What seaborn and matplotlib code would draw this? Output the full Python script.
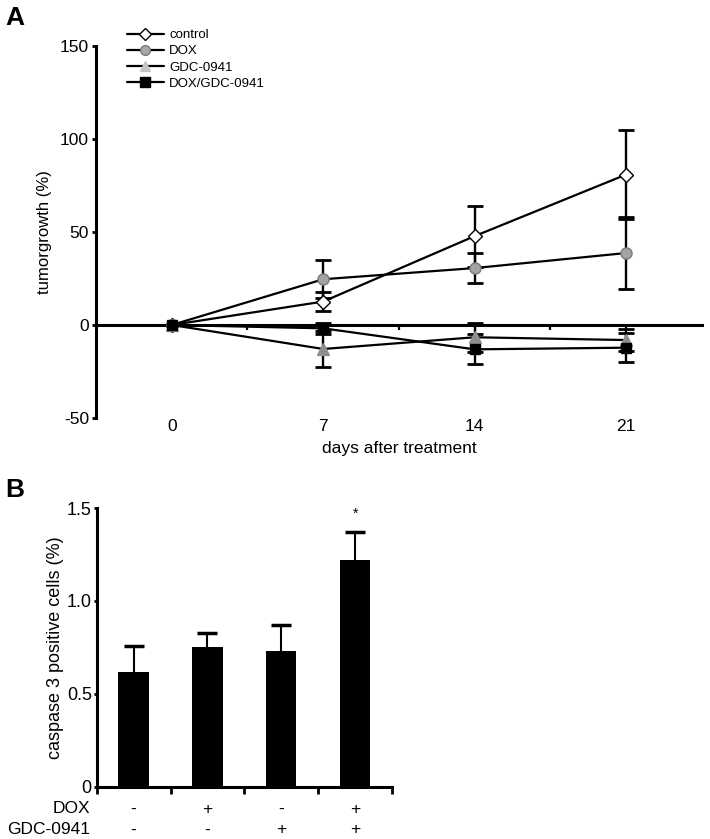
import matplotlib
matplotlib.use("Agg")
import matplotlib.pyplot as plt
from matplotlib.lines import Line2D
import numpy as np
import seaborn as sns

# Panel A: tumour growth (%) over days after treatment
days = [0, 7, 14, 21]
control_mean = [0, 12.6, 47.8, 80.9]
control_err = [0, 5.2, 16.4, 23.7]
dox_mean = [0, 24.6, 30.6, 38.7]
dox_err = [0, 10.3, 8.0, 19.6]
gdc_mean = [0, -12.9, -6.6, -8.1]
gdc_err = [0, 9.5, 7.9, 5.9]
combo_mean = [0, -1.8, -13.1, -12.2]
combo_err = [0, 3.0, 8.1, 7.9]
series_names = ['control', 'DOX', 'GDC-0941', 'DOX/GDC-0941']

# Panel B: caspase 3 positive cells (%)
dox_status = ['-', '+', '-', '+']
gdc_status = ['-', '-', '+', '+']
caspase_mean = [0.62, 0.75, 0.73, 1.22]
caspase_err = [0.135, 0.078, 0.139, 0.151]
ytick_b = [0, 0.5, 1.0, 1.5]
ytick_b_labels = ['0', '0.5', '1.0', '1.5']

STYLES = {
    'control': dict(marker='D', ms=7, face='white', edge='black', legend_face='white'),
    'DOX': dict(marker='o', ms=8, face='#a3a3a3', edge='#7a7a7a', legend_face='#a8a8a8'),
    'GDC-0941': dict(marker='^', ms=8, face='#8e8e8e', edge='#8e8e8e', legend_face='#c4c4c4'),
    'DOX/GDC-0941': dict(marker='s', ms=7.5, face='black', edge='black', legend_face='black'),
}

sns.set_style("ticks", rc={'axes.edgecolor': 'black', 'xtick.color': 'black',
                           'ytick.color': 'black', 'text.color': 'black',
                           'axes.labelcolor': 'black'})
plt.rcParams['font.family'] = ['Liberation Sans', 'DejaVu Sans']
plt.rcParams['axes.unicode_minus'] = False

fig = plt.figure(figsize=(7.1, 8.39), dpi=100)
axA = fig.add_axes([0.1352, 0.5018, 0.8535, 0.4434])
axB = fig.add_axes([0.1362, 0.0623, 0.4159, 0.3322])

# ---- panel A ----
all_means = [control_mean, dox_mean, gdc_mean, combo_mean]
all_errs = [control_err, dox_err, gdc_err, combo_err]
handles = []
for name, mean, err in zip(series_names, all_means, all_errs):
    st = STYLES[name]
    axA.errorbar(days, mean, yerr=err, fmt='none', ecolor='black',
                 elinewidth=1.7, capsize=6, capthick=2, zorder=3)
    sns.lineplot(x=days, y=mean, ax=axA, color='black', lw=1.6,
                 marker=st['marker'], markersize=st['ms'],
                 markerfacecolor=st['face'], markeredgecolor=st['edge'],
                 markeredgewidth=1, zorder=4, clip_on=False)
    handles.append(Line2D([], [], color='black', lw=1.6, marker=st['marker'],
                          markersize=st['ms'] - 1, markerfacecolor=st['legend_face'],
                          markeredgecolor=st['edge'] if name != 'GDC-0941' else st['legend_face']))

axA.set_xlim(-3.5, 24.5)
axA.set_ylim(-50, 150)
sns.despine(ax=axA)
axA.spines['bottom'].set_position(('data', 0))
for s in ['left', 'bottom']:
    axA.spines[s].set_linewidth(2.2)
axA.set_xticks(days)
axA.set_xticks([3.5, 10.5, 17.5], minor=True)
axA.set_yticks([-50, 0, 50, 100, 150])
axA.tick_params(axis='x', which='both', direction='out', length=3.5, width=1.6,
                pad=64, labelsize=12.5)
axA.tick_params(axis='y', direction='out', length=3, width=2, pad=2, labelsize=12.5)
axA.set_xlabel('days after treatment', fontsize=12.5, labelpad=5)
axA.set_ylabel('tumorgrowth (%)', fontsize=12, labelpad=6)

fig.legend(handles, series_names, loc='upper left',
           bbox_to_anchor=(127 / 710, 1 - 29 / 839), frameon=False, fontsize=9.5,
           handlelength=2.8, handletextpad=0.4, labelspacing=0.3,
           borderpad=0, borderaxespad=0)

# ---- panel B ----
labels_b = [f"{d}\n{g}" for d, g in zip(dox_status, gdc_status)]
xpos = np.arange(len(caspase_mean))
# error bars sit behind the bars, so only the upper half shows
axB.errorbar(xpos, caspase_mean, yerr=caspase_err, fmt='none', ecolor='black',
             elinewidth=1.5, capsize=7.5, capthick=2.5, zorder=0.5)
sns.barplot(x=labels_b, y=caspase_mean, ax=axB, color='black', saturation=1,
            width=0.41, errorbar=None, linewidth=0, zorder=1)
axB.text(xpos[-1], caspase_mean[-1] + caspase_err[-1] + 0.06, '*',
         ha='center', va='bottom', fontsize=10)

axB.set_xlim(-0.5, 3.5)
axB.set_ylim(0, 1.5)
sns.despine(ax=axB)
for s in ['left', 'bottom']:
    axB.spines[s].set_linewidth(2.2)
axB.set_xticks(xpos)
axB.set_xticklabels(labels_b, linespacing=1.45)
axB.set_xticks(np.arange(-0.5, 4, 1), minor=True)
axB.tick_params(axis='x', which='major', length=0, pad=11, labelsize=12.5)
axB.tick_params(axis='x', which='minor', direction='out', length=5, width=2)
axB.set_yticks(ytick_b)
axB.set_yticklabels(ytick_b_labels)
axB.tick_params(axis='y', direction='out', length=2.5, width=2, pad=1, labelsize=13)
axB.set_xlabel('')
axB.set_ylabel('caspase 3 positive cells (%)', fontsize=13, labelpad=2)
axB.text(-0.023, -0.052, 'DOX\nGDC-0941', transform=axB.transAxes, ha='right',
         va='top', multialignment='right', fontsize=12.5, linespacing=1.45)

fig.text(0.008, 1 - 6 / 839, 'A', fontsize=19, fontweight='bold', va='top')
fig.text(0.008, 1 - 478 / 839, 'B', fontsize=19, fontweight='bold', va='top')

fig.savefig('out.png', dpi=100)
